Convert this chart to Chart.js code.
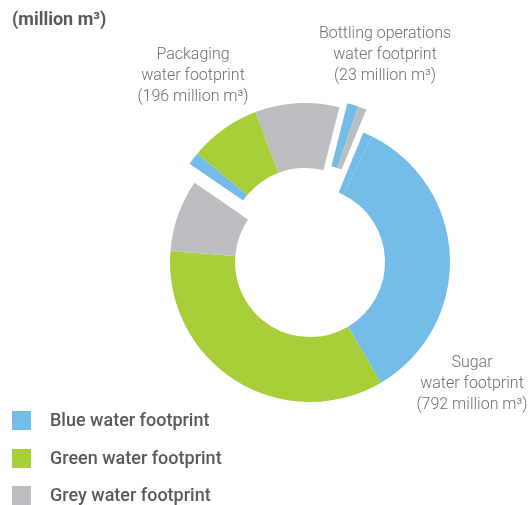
<!DOCTYPE html>
<html>
<head>
<meta charset="utf-8">
<script src="https://cdn.jsdelivr.net/npm/chart.js@4.4.1/dist/chart.umd.min.js"></script>
<style>
	body { margin: 0; background: #fff; }
	#wrap { position: relative; width: 530px; height: 505px; font-family: Roboto, 'Noto Sans', sans-serif; }
	#chart { position: absolute; left: 0; top: 0; }
	.title { position: absolute; left: 12px; top: 8px; font-size: 18px; font-weight: 700; color: #58595b; line-height: 22px; }
	.note { position: absolute; width: 180px; text-align: center; font-size: 16px; font-weight: 300; color: #6d6e71; line-height: 21px; }
	.legend-row { position: absolute; left: 12px; height: 19px; }
	.legend-row .box { position: absolute; left: 0; top: 0; width: 19px; height: 19px; }
	.legend-row .txt { position: absolute; left: 38px; top: -2px; white-space: nowrap; font-size: 18px; font-weight: 500; color: #58595b; line-height: 22px; }
</style>
</head>
<body>
<div id="wrap">
	<canvas id="chart" width="530" height="505"></canvas>
	<div class="title">(million m³)</div>
	<div id="notes"></div>
	<div id="legend"></div>
</div>
<script>
// water footprint groups, totals in million m3
const groups = ['Sugar', 'Packaging', 'Bottling operations'];
const groupTotals = [792, 196, 23];
const footprintTypes = ['Blue water footprint', 'Green water footprint', 'Grey water footprint'];

// segments of the ring, clockwise from the top of the sugar group
const segmentGroup = [0, 0, 0, 0, 1, 1, 1, 2, 2];
const segmentType = [0, 0, 1, 2, 0, 1, 2, 0, 2];
const segmentValues = [11, 346, 351, 84, 15, 83, 98, 13, 10];

const typeColors = ['#74bde8', '#a8ce3a', '#bcbdc1'];
// how far each group is pulled out of the ring (px)
const groupShift = [[0, 0], [-5, -19], [3, -23]];

const explodeGroups = {
	id: 'explodeGroups',
	afterDatasetUpdate(chart, args) {
		args.meta.data.forEach((arc, i) => {
			const s = groupShift[segmentGroup[i]];
			arc.x += s[0];
			arc.y += s[1];
		});
	}
};

new Chart(document.getElementById('chart').getContext('2d'), {
	type: 'doughnut',
	data: {
		labels: segmentType.map((t, i) => groups[segmentGroup[i]] + ' - ' + footprintTypes[t]),
		datasets: [{
			data: segmentValues,
			backgroundColor: segmentType.map(t => typeColors[t]),
			borderWidth: 0
		}]
	},
	options: {
		responsive: false,
		animation: false,
		events: [],
		rotation: 22.4,
		cutout: '53.6%',
		layout: { padding: { left: 170, right: 80, top: 122, bottom: 103 } },
		plugins: {
			legend: { display: false },
			tooltip: { enabled: false }
		}
	},
	plugins: [explodeGroups]
});

// group labels
const notePos = [[472, 351], [193, 43], [385, 22]];
const notes = document.getElementById('notes');
groups.forEach((g, i) => {
	const d = document.createElement('div');
	d.className = 'note';
	d.style.left = (notePos[i][0] - 90) + 'px';
	d.style.top = notePos[i][1] + 'px';
	d.innerHTML = g + '<br>water footprint<br>(' + groupTotals[i] + ' million m³)';
	notes.appendChild(d);
});

// legend
const legend = document.getElementById('legend');
footprintTypes.forEach((name, i) => {
	const row = document.createElement('div');
	row.className = 'legend-row';
	row.style.top = (411 + i * 37.5) + 'px';
	row.innerHTML = `<div class="box" style="background:${typeColors[i]}"></div><div class="txt">${name}</div>`;
	legend.appendChild(row);
});
</script>
</body>
</html>
